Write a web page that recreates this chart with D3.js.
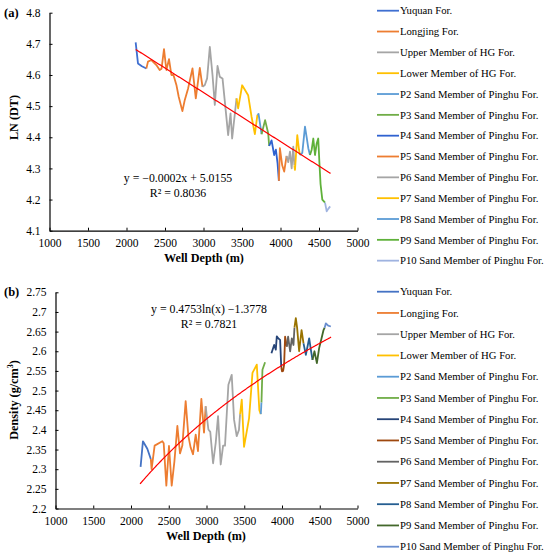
<!DOCTYPE html>
<html>
<head>
<meta charset="utf-8">
<script src="https://cdn.jsdelivr.net/npm/d3@7"></script>
<style>
  body { margin: 0; background: #fff; }
  svg, svg text { font-family: "Liberation Serif", "Times New Roman", serif; }
</style>
</head>
<body>
<div id="chart"></div>
<script>
const W = 550, H = 558
const FONT = "'Liberation Serif', 'Times New Roman', serif"

const formations = ["Yuquan For.", "Longjing For.", "Upper Member of HG For.", "Lower Member of HG For.",
  "P2 Sand Member of Pinghu For.", "P3 Sand Member of Pinghu For.", "P4 Sand Member of Pinghu For.",
  "P5 Sand Member of Pinghu For.", "P6 Sand Member of Pinghu For.", "P7 Sand Member of Pinghu For.",
  "P8 Sand Member of Pinghu For.", "P9 Sand Member of Pinghu For.", "P10 Sand Member of Pinghu For."]

const xTicks = [1000, 1500, 2000, 2500, 3000, 3500, 4000, 4500, 5000]
const yTicksA = [4.1, 4.2, 4.3, 4.4, 4.5, 4.6, 4.7, 4.8]
const yTicksB = [2.2, 2.25, 2.3, 2.35, 2.4, 2.45, 2.5, 2.55, 2.6, 2.65, 2.7, 2.75]

// (a) LN(DT) vs depth, one array per formation: [depth, value]
const dtYuquan = [[2119,4.705],[2149,4.637],[2200,4.628],[2258,4.621]]
const dtLongjing = [[2258,4.621],[2279,4.643],[2323,4.648],[2388,4.632],[2431,4.616],[2455,4.62],[2487,4.683],[2518,4.616],[2552,4.651],[2583,4.60],[2610,4.60],[2648,4.568],[2678,4.53],[2726,4.484],[2757,4.52],[2800,4.557],[2857,4.621],[2900,4.525],[2952,4.623],[2987,4.562]]
const dtUpperHG = [[2987,4.562],[3017,4.568],[3047,4.589],[3082,4.69],[3117,4.60],[3147,4.504],[3182,4.629],[3212,4.594],[3247,4.589],[3277,4.515],[3320,4.407],[3351,4.477],[3372,4.396],[3429,4.525]]
const dtLowerHG = [[3429,4.525],[3450,4.493],[3502,4.567],[3580,4.535],[3624,4.466],[3667,4.41],[3700,4.472]]
const dtP2 = [[3700,4.472],[3715,4.475],[3754,4.41]]
const dtP3 = [[3754,4.41],[3800,4.455],[3840,4.413],[3853,4.372]]
const dtP4 = [[3853,4.372],[3884,4.39],[3918,4.343],[3940,4.36],[3962,4.316],[3979,4.26]]
const dtP5 = [[3979,4.26],[3992,4.365],[4022,4.31],[4048,4.29],[4079,4.34]]
const dtP6 = [[4079,4.34],[4101,4.32],[4123,4.354],[4145,4.30],[4166,4.37],[4180,4.31]]
const dtP7 = [[4180,4.31],[4188,4.295],[4218,4.407],[4240,4.36],[4253,4.343]]
const dtP8 = [[4253,4.343],[4283,4.35],[4318,4.434],[4340,4.40],[4361,4.365],[4383,4.343]]
const dtP9 = [[4383,4.343],[4405,4.36],[4426,4.396],[4448,4.343],[4470,4.38],[4490,4.396],[4505,4.32],[4520,4.25],[4543,4.20],[4578,4.19]]
const dtP10 = [[4578,4.19],[4600,4.162],[4620,4.17],[4645,4.178]]

// (b) density vs depth
const rhoYuquan = [[2127,2.306],[2158,2.371],[2216,2.352],[2262,2.326]]
const rhoLongjing = [[2262,2.326],[2273,2.30],[2313,2.36],[2415,2.371],[2433,2.366],[2468,2.258],[2503,2.359],[2539,2.258],[2575,2.32],[2614,2.41],[2649,2.34],[2680,2.36],[2724,2.473],[2760,2.384],[2790,2.355],[2821,2.338],[2857,2.388],[2887,2.346],[2932,2.479],[2967,2.393],[2989,2.46]]
const rhoUpperHG = [[2989,2.46],[3025,2.401],[3050,2.395],[3087,2.315],[3122,2.367],[3153,2.435],[3188,2.312],[3220,2.36],[3245,2.36],[3290,2.515],[3334,2.54],[3365,2.426],[3400,2.384],[3430,2.40],[3445,2.44]]
const rhoLowerHG = [[3445,2.44],[3467,2.477],[3497,2.357],[3564,2.43],[3609,2.545],[3666,2.566],[3700,2.45],[3719,2.44]]
const rhoP2 = [[3719,2.44],[3728,2.47]]
const rhoP3 = [[3728,2.47],[3741,2.553],[3776,2.572]]
const rhoP4 = [[3860,2.595],[3896,2.616],[3918,2.604],[3931,2.638],[3949,2.633],[3975,2.629],[3990,2.56]]
const rhoP5 = [[3990,2.56],[4000,2.549],[4015,2.55],[4028,2.566],[4041,2.637],[4064,2.612]]
const rhoP6 = [[4064,2.612],[4081,2.637],[4108,2.6],[4130,2.633],[4152,2.616],[4165,2.66]]
const rhoP7 = [[4165,2.66],[4183,2.684],[4200,2.66],[4227,2.6],[4259,2.654],[4285,2.62]]
const rhoP8 = [[4285,2.62],[4316,2.591],[4360,2.633],[4382,2.604],[4404,2.578]]
const rhoP9 = [[4404,2.578],[4430,2.60],[4462,2.57],[4492,2.608],[4524,2.633],[4550,2.654],[4565,2.66]]
const rhoP10 = [[4565,2.66],[4581,2.671],[4612,2.665],[4647,2.663]]

// fitted trend lines, coefficients from the figure
const fitA = {slope: -0.0001573, intercept: 5.0155, from: 2120, to: 4650}
const fitB = {a: 0.4753, b: -1.3778, from: 2120, to: 4650}

const colorsA = ["#3f6fd1","#ed7d31","#a5a5a5","#ffc000","#5b9bd5","#70ad47","#2f62d0","#ed7d31","#a5a5a5","#ffc000","#5b9bd5","#5fb13a","#9fb3e0"]
const colorsB = ["#4472c4","#ed7d31","#a5a5a5","#ffc000","#5b9bd5","#70ad47","#264478","#9e480e","#636363","#997300","#255e91","#43682b","#698ed0"]

const svg = d3.select("#chart").append("svg")
    .attr("width", W)
    .attr("height", H)
    .attr("font-family", FONT)

function drawPanel(cfg){
    const g = svg.append("g")

    const x = d3.scaleLinear().domain([1000, 5000]).range([cfg.left, cfg.right])
    const y = d3.scaleLinear().domain(cfg.yDomain).range([cfg.bottom, cfg.top])

    const xAxis = g.append("g")
        .attr("transform", `translate(0, ${cfg.bottom})`)
        .call(d3.axisBottom(x).tickValues(xTicks).tickFormat(d3.format("d")).tickSize(-3).tickSizeOuter(0).tickPadding(8))
    const yAxis = g.append("g")
        .attr("transform", `translate(${cfg.left}, 0)`)
        .call(d3.axisLeft(y).tickValues(cfg.yTicks).tickFormat(d3.format("~g")).tickSize(-3).tickSizeOuter(0).tickPadding(9))

    for (const ax of [xAxis, yAxis]) {
        ax.attr("font-family", FONT).attr("font-size", 11.5)
        ax.select(".domain").attr("stroke", "#000").attr("stroke-width", 1.2)
        ax.selectAll(".tick line").attr("stroke", "#000")
        ax.selectAll(".tick text").attr("fill", "#000")
    }

    const line = d3.line().x(d => x(d[0])).y(d => y(d[1]))

    cfg.series.forEach((s, i) => {
        g.append("path")
            .datum(s)
            .attr("d", line)
            .attr("fill", "none")
            .attr("stroke", cfg.colors[i])
            .attr("stroke-width", 1.8)
            .attr("stroke-linejoin", "round")
    })

    // trend line
    const trend = d3.range(cfg.fit.from, cfg.fit.to + 1, 10).map(d => [d, cfg.fitFn(d)])
    g.append("path")
        .datum(trend)
        .attr("d", line)
        .attr("fill", "none")
        .attr("stroke", "#ff0000")
        .attr("stroke-width", 1.2)

    // equation
    g.append("text")
        .attr("x", cfg.eqX).attr("y", cfg.eqY)
        .attr("text-anchor", "middle")
        .attr("font-size", 11.8)
        .text(cfg.eq)
    g.append("text")
        .attr("x", cfg.eqX).attr("y", cfg.eqY + 15)
        .attr("text-anchor", "middle")
        .attr("font-size", 11.8)
        .text(cfg.r2)

    // panel letter
    g.append("text")
        .attr("x", 4).attr("y", cfg.top + 4)
        .attr("font-size", 12.5)
        .attr("font-weight", "bold")
        .text(cfg.letter)

    // axis titles
    g.append("text")
        .attr("x", cfg.xTitleX)
        .attr("y", cfg.bottom + 31)
        .attr("text-anchor", "middle")
        .attr("font-size", 12.2)
        .attr("font-weight", "bold")
        .text("Well Depth (m)")

    const yt = g.append("text")
        .attr("transform", `translate(${cfg.yTitleX}, ${cfg.yTitleY}) rotate(-90)`)
        .attr("text-anchor", "middle")
        .attr("font-size", 12.2)
        .attr("font-weight", "bold")
    yt.append("tspan").text(cfg.yTitle)
    if (cfg.yTitleSup) {
        yt.append("tspan").attr("dy", -5).attr("font-size", 8).text(cfg.yTitleSup)
        yt.append("tspan").attr("dy", 5).text(cfg.yTitleEnd)
    }

    // legend
    const lg = g.append("g")
    formations.forEach((name, i) => {
        const ly = cfg.legendTop + i * cfg.legendStep
        lg.append("line")
            .attr("x1", 377).attr("x2", 399)
            .attr("y1", ly).attr("y2", ly)
            .attr("stroke", cfg.colors[i])
            .attr("stroke-width", 1.8)
        lg.append("text")
            .attr("x", 400).attr("y", ly)
            .attr("dy", "0.35em")
            .attr("font-size", 10.7)
            .text(name)
    })
}

drawPanel({
    letter: "(a)",
    left: 49.5, right: 357.5, top: 12.7, bottom: 230.7,
    yDomain: [4.1, 4.8], yTicks: yTicksA,
    series: [dtYuquan, dtLongjing, dtUpperHG, dtLowerHG, dtP2, dtP3, dtP4, dtP5, dtP6, dtP7, dtP8, dtP9, dtP10],
    colors: colorsA,
    fit: fitA, fitFn: d => fitA.slope * d + fitA.intercept,
    eq: "y = \u22120.0002x + 5.0155", r2: "R\u00b2 = 0.8036", eqX: 178, eqY: 182,
    xTitleX: 204,
    yTitle: "LN (DT)", yTitleX: 18, yTitleY: 117.5,
    legendTop: 10.7, legendStep: 20.83
})

drawPanel({
    letter: "(b)",
    left: 55.5, right: 357.5, top: 292.3, bottom: 508.5,
    yDomain: [2.2, 2.75], yTicks: yTicksB,
    series: [rhoYuquan, rhoLongjing, rhoUpperHG, rhoLowerHG, rhoP2, rhoP3, rhoP4, rhoP5, rhoP6, rhoP7, rhoP8, rhoP9, rhoP10],
    colors: colorsB,
    fit: fitB, fitFn: d => fitB.a * Math.log(d) + fitB.b,
    eq: "y = 0.4753ln(x) \u22121.3778", r2: "R\u00b2 = 0.7821", eqX: 209, eqY: 313,
    xTitleX: 206,
    yTitle: "Density (g/cm", yTitleSup: "3", yTitleEnd: ")", yTitleX: 18, yTitleY: 400,
    legendTop: 291.7, legendStep: 21.25
})
</script>
</body>
</html>
